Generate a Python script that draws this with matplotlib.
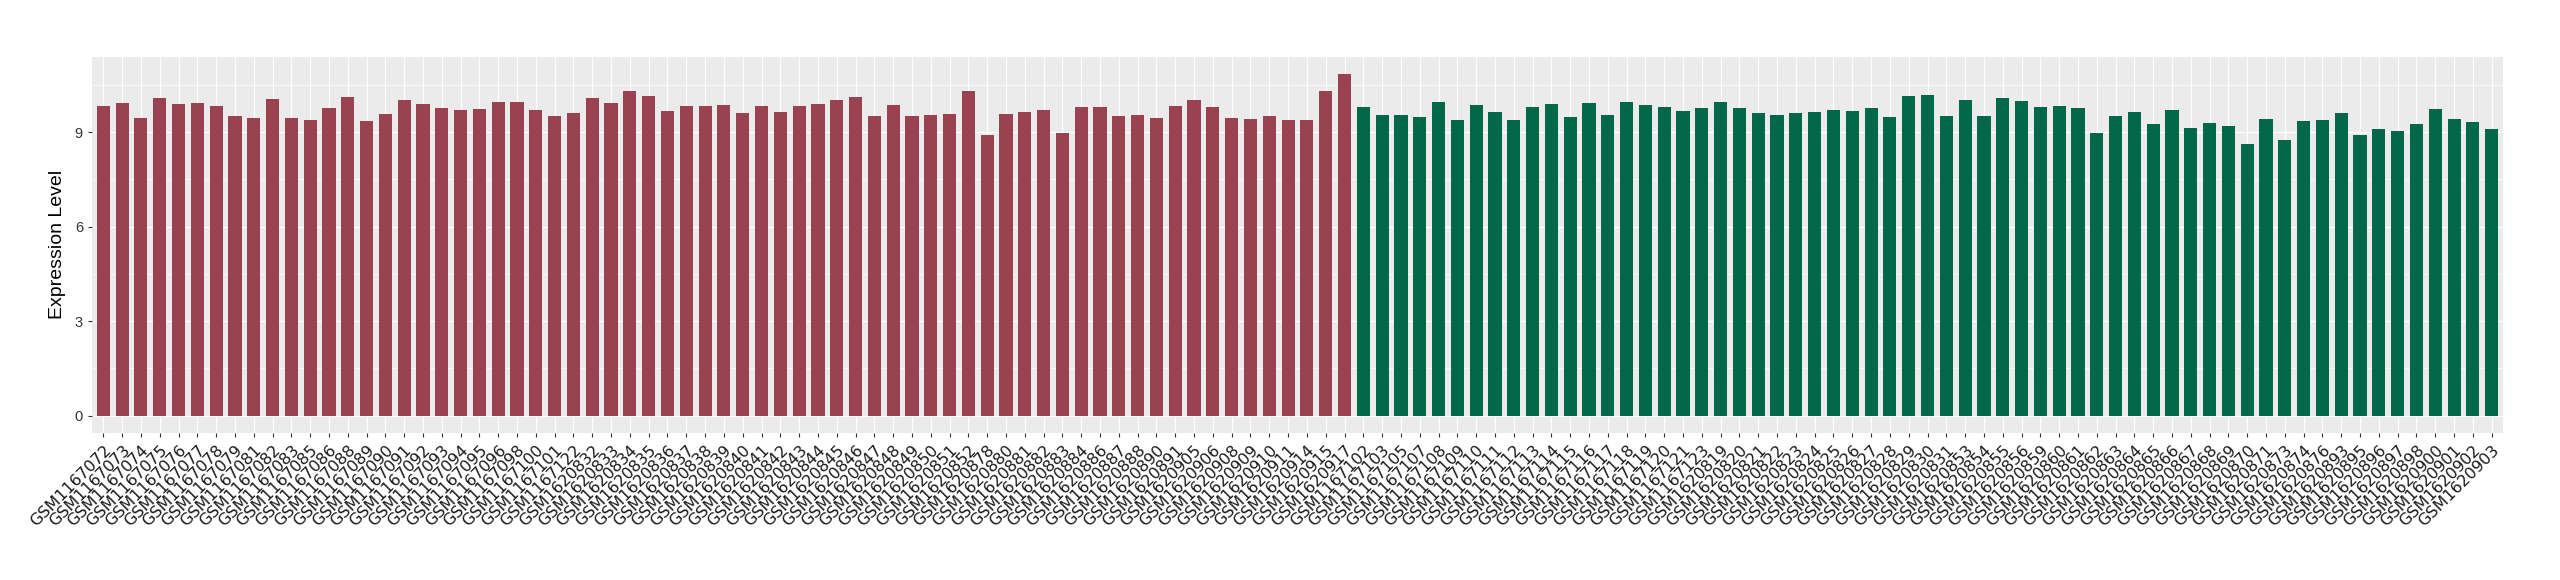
import matplotlib
matplotlib.use("Agg")
import matplotlib.pyplot as plt
import numpy as np

# sample ids and expression values
group_a_ids = ["GSM1167072", "GSM1167073", "GSM1167074", "GSM1167075", "GSM1167076",
               "GSM1167077", "GSM1167078", "GSM1167079", "GSM1167081", "GSM1167082",
               "GSM1167083", "GSM1167085", "GSM1167086", "GSM1167088", "GSM1167089",
               "GSM1167090", "GSM1167091", "GSM1167092", "GSM1167093", "GSM1167094",
               "GSM1167095", "GSM1167096", "GSM1167098", "GSM1167100", "GSM1167101",
               "GSM1167122", "GSM1620832", "GSM1620833", "GSM1620834", "GSM1620835",
               "GSM1620836", "GSM1620837", "GSM1620838", "GSM1620839", "GSM1620840",
               "GSM1620841", "GSM1620842", "GSM1620843", "GSM1620844", "GSM1620845",
               "GSM1620846", "GSM1620847", "GSM1620848", "GSM1620849", "GSM1620850",
               "GSM1620851", "GSM1620852", "GSM1620878", "GSM1620880", "GSM1620881",
               "GSM1620882", "GSM1620883", "GSM1620884", "GSM1620886", "GSM1620887",
               "GSM1620888", "GSM1620890", "GSM1620891", "GSM1620905", "GSM1620906",
               "GSM1620908", "GSM1620909", "GSM1620910", "GSM1620911", "GSM1620914",
               "GSM1620915", "GSM1620917"]
group_a_vals = [9.83, 9.92, 9.45, 10.09, 9.89, 9.92, 9.83, 9.51, 9.45, 10.05,
                9.45, 9.39, 9.77, 10.11, 9.36, 9.57, 10.02, 9.89, 9.77, 9.71,
                9.74, 9.96, 9.96, 9.71, 9.51, 9.61, 10.09, 9.92, 10.31, 10.14,
                9.67, 9.83, 9.83, 9.86, 9.61, 9.83, 9.64, 9.83, 9.89, 10.02,
                10.11, 9.51, 9.86, 9.51, 9.54, 9.57, 10.31, 8.91, 9.57, 9.64,
                9.71, 8.97, 9.79, 9.79, 9.51, 9.54, 9.45, 9.83, 10.02, 9.79,
                9.45, 9.42, 9.51, 9.39, 9.39, 10.31, 10.84]

group_b_ids = ["GSM1167102", "GSM1167103", "GSM1167105", "GSM1167107", "GSM1167108",
               "GSM1167109", "GSM1167110", "GSM1167111", "GSM1167112", "GSM1167113",
               "GSM1167114", "GSM1167115", "GSM1167116", "GSM1167117", "GSM1167118",
               "GSM1167119", "GSM1167120", "GSM1167121", "GSM1167123", "GSM1620819",
               "GSM1620820", "GSM1620821", "GSM1620822", "GSM1620823", "GSM1620824",
               "GSM1620825", "GSM1620826", "GSM1620827", "GSM1620828", "GSM1620829",
               "GSM1620830", "GSM1620831", "GSM1620853", "GSM1620854", "GSM1620855",
               "GSM1620856", "GSM1620859", "GSM1620860", "GSM1620861", "GSM1620862",
               "GSM1620863", "GSM1620864", "GSM1620865", "GSM1620866", "GSM1620867",
               "GSM1620868", "GSM1620869", "GSM1620870", "GSM1620871", "GSM1620873",
               "GSM1620874", "GSM1620876", "GSM1620893", "GSM1620895", "GSM1620896",
               "GSM1620897", "GSM1620898", "GSM1620900", "GSM1620901", "GSM1620902",
               "GSM1620903"]
group_b_vals = [9.79, 9.54, 9.54, 9.48, 9.96, 9.39, 9.86, 9.64, 9.39, 9.79,
                9.89, 9.48, 9.92, 9.54, 9.96, 9.86, 9.79, 9.67, 9.77, 9.96,
                9.77, 9.61, 9.54, 9.61, 9.64, 9.71, 9.67, 9.77, 9.48, 10.14,
                10.17, 9.51, 10.02, 9.51, 10.09, 9.99, 9.79, 9.83, 9.77, 8.97,
                9.51, 9.64, 9.26, 9.71, 9.13, 9.29, 9.19, 8.62, 9.42, 8.76,
                9.36, 9.39, 9.61, 8.91, 9.10, 9.04, 9.26, 9.74, 9.42, 9.32,
                9.10]

color_a = "#9B4251"
color_b = "#006748"

labels = group_a_ids + group_b_ids
vals = np.array(group_a_vals + group_b_vals)
colors = [color_a] * len(group_a_vals) + [color_b] * len(group_b_vals)
x = np.arange(len(labels))

fig = plt.figure(figsize=(25.6, 5.8), dpi=100)
ax = fig.add_axes([92 / 2560, 1 - 432.7 / 580, (2503 - 92) / 2560, (432.7 - 57) / 580])
ax.set_facecolor("#EBEBEB")

ax.bar(x, vals, width=0.7, color=colors, zorder=3)

# ggplot style grid
ax.set_yticks([0, 3, 6, 9])
ax.set_yticks([1.5, 4.5, 7.5, 10.5], minor=True)
ax.grid(True, which="major", color="white", linewidth=0.9, zorder=0)
ax.grid(True, which="minor", axis="y", color="white", linewidth=0.45, zorder=0)
ax.set_axisbelow(True)

span = vals.max()
ax.set_ylim(-0.05 * span, span * 1.05)
ax.set_xlim(-0.6, len(labels) - 1 + 0.6)

for s in ax.spines.values():
    s.set_visible(False)

ax.set_xticks(x)
ax.set_xticklabels(labels, rotation=45, ha="right", va="top", rotation_mode="anchor",
                   fontsize=11.5, color="#1A1A1A", family="DejaVu Sans")
ax.tick_params(axis="both", which="major", length=3, width=0.8, color="#333333")
ax.tick_params(axis="x", pad=4)
ax.tick_params(axis="y", which="minor", length=0)
for t in ax.get_yticklabels():
    t.set_fontsize(10.5)
    t.set_family("Liberation Sans")
    t.set_color("#333333")

ax.set_ylabel("Expression Level", fontsize=14, family="Liberation Sans", labelpad=6)

fig.savefig("out.png", dpi=100)
